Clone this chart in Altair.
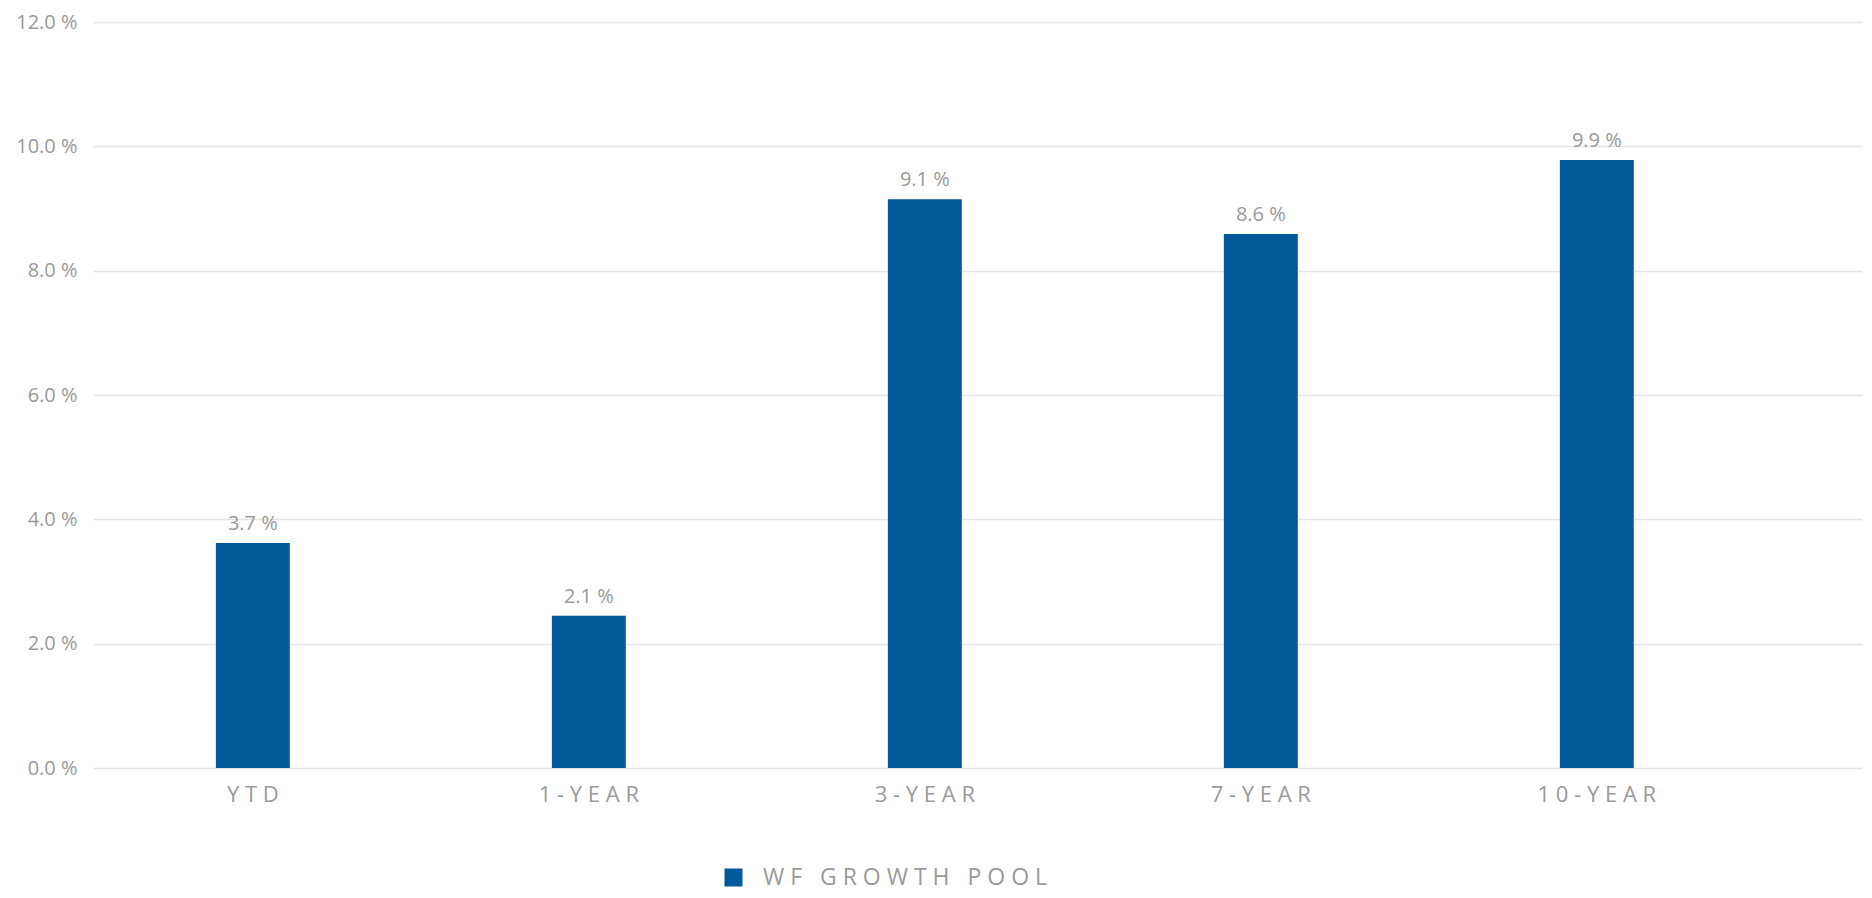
import altair as alt
import pandas as pd

categories = ["YTD", "1-YEAR", "3-YEAR", "7-YEAR", "10-YEAR"]
bar_values = [3.62, 2.45, 9.15, 8.59, 9.78]
label_texts = ["3.7 %", "2.1 %", "9.1 %", "8.6 %", "9.9 %"]
series_name = "WF GROWTH POOL"
y_ticks = [0, 2, 4, 6, 8, 10, 12]

df = pd.DataFrame({
    "period": categories,
    "value": bar_values,
    "label": label_texts,
    "series": [series_name] * len(categories),
})

FONT = "Open Sans"
GRAY = "#9a9a9a"
BLUE = "#005A97"

x = alt.X(
    "period:N", sort=categories, title=None,
    scale=alt.Scale(paddingInner=0.78, paddingOuter=0.5225, align=0.35),
    axis=alt.Axis(labelAngle=0, ticks=False, domain=False, labelPadding=16,
                  labelFontSize=22, labelColor=GRAY, labelFont=FONT,
                  labelExpr="join(split(datum.label, ''), ' ')"),
)
y = alt.Y(
    "value:Q", title=None,
    scale=alt.Scale(domain=[0, 12], nice=False),
    axis=alt.Axis(values=y_ticks, ticks=False, domain=False, labelPadding=16,
                  labelExpr="format(datum.value, '.1f') + ' %'",
                  gridColor="#e4e4e4", gridWidth=1.5,
                  labelFontSize=20, labelColor=GRAY, labelFont=FONT),
)

bars = alt.Chart(df).mark_bar().encode(
    x=x, y=y,
    color=alt.Color(
        "series:N",
        scale=alt.Scale(range=[BLUE]),
        legend=alt.Legend(title=None, orient="none", legendX=629, legendY=844,
                          symbolType="square", symbolSize=324, symbolStrokeWidth=0,
                          labelFontSize=23, labelColor=GRAY, labelFont=FONT,
                          labelOffset=18, padding=0, labelLimit=600,
                          labelExpr="join(split(join(split(datum.label, ' '), '\u00a0'), ''), ' ')"),
    ),
)

texts = alt.Chart(df).mark_text(
    baseline="bottom", dy=-9, font=FONT, fontSize=20, color=GRAY
).encode(x=x, y=y, text="label:N")

chart = alt.layer(bars, texts).properties(
    width=1769, height=746,
    autosize=alt.AutoSizeParams(type="none"),
    padding={"left": 85, "top": 14, "right": 2, "bottom": 122},
).configure_view(stroke=None)

chart.save("out.html", embed_options={"renderer": "svg", "actions": False})
